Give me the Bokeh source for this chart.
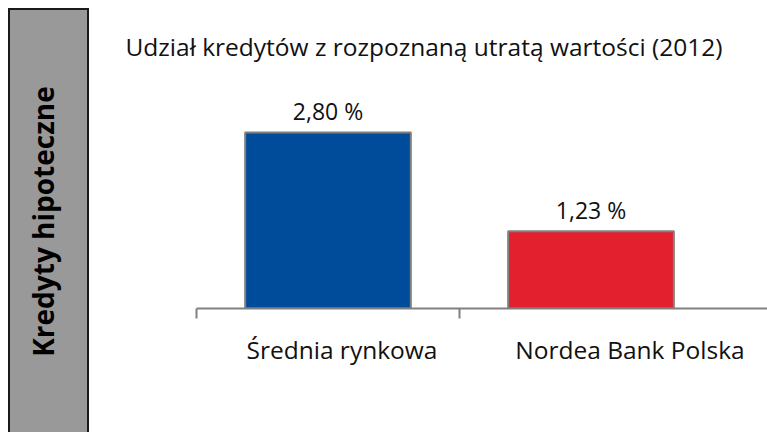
from bokeh.plotting import figure
from bokeh.models import ColumnDataSource, Range1d, FixedTicker, Title, Column, Row
from bokeh.core.properties import value
from bokeh.embed import file_html
from bokeh.resources import INLINE

categories = ["Średnia rynkowa", "Nordea Bank Polska"]
values = [2.80, 1.23]
bar_colors = ["#004c9b", "#e3202e"]
title_text = "Udział kredytów z rozpoznaną utratą wartości (2012)"
side_text = "Kredyty hipoteczne"
FONT = "Open Sans"

# label placement shift (layout, in category units)
label_shift = [0.053, 0.148]

# ---- left gray box ----
left = figure(width=77, height=422, margin=(2, 2, 0, 2), output_backend="svg",
              toolbar_location=None, x_range=Range1d(0, 1), y_range=Range1d(0, 1),
              min_border=0, min_border_left=51,
              styles={"background-color": "#999999"})
left.xaxis.visible = False
left.yaxis.visible = False
left.grid.visible = False
left.outline_line_color = None
left.background_fill_color = None
left.border_fill_color = None
left.add_layout(Title(text=side_text, align="center", text_font=FONT,
                      text_font_style="bold", text_font_size="28px",
                      text_color="black", standoff=0), "left")
wrap = Column(children=[left], margin=(8, 0, 0, 8),
              styles={"background-color": "#1a1a1a"})

# ---- main chart ----
xs = list(range(len(categories)))
labels = [f"{v:.2f} %".replace(".", ",") for v in values]
src = ColumnDataSource(dict(x=xs, top=values, color=bar_colors, label=labels))

p = figure(width=678, height=432, output_backend="svg", toolbar_location=None,
           x_range=Range1d(-0.5, 1.671), y_range=Range1d(0, 3.625),
           min_border_left=107, min_border_right=0, min_border_top=80, min_border_bottom=124)
p.outline_line_color = None
p.grid.visible = False
p.yaxis.visible = False

p.vbar(x="x", top="top", width=0.63, fill_color="color", line_color="#808080",
       line_width=2, source=src)
p.text(x="x", y="top", text="label", source=src, text_align="center",
       text_baseline="bottom", y_offset=-5, text_font=value(FONT), text_font_size="23px",
       text_color="#111111")

tick_pos = [x + s for x, s in zip(xs, label_shift)]
ax = p.xaxis[0]
ax.ticker = FixedTicker(ticks=tick_pos, minor_ticks=[x - 0.5 for x in xs])
ax.major_label_overrides = {t: c for t, c in zip(tick_pos, categories)}
ax.major_tick_out = 0
ax.major_tick_in = 0
ax.minor_tick_out = 10
ax.minor_tick_in = 0
ax.minor_tick_line_color = "#808080"
ax.minor_tick_line_width = 2
ax.axis_line_color = "#808080"
ax.axis_line_width = 2
ax.major_label_standoff = 14
ax.major_label_text_font = FONT
ax.major_label_text_font_size = "24.5px"
ax.major_label_text_color = "#111111"

p.title.text = title_text
p.title.align = "left"
p.title.offset = -71
p.title.text_font = FONT
p.title.text_font_style = "normal"
p.title.text_font_size = "24.5px"
p.title.text_color = "#111111"
p.title.standoff = 35

layout = Row(children=[wrap, p])
open("out.html", "w").write(file_html(layout, INLINE))
